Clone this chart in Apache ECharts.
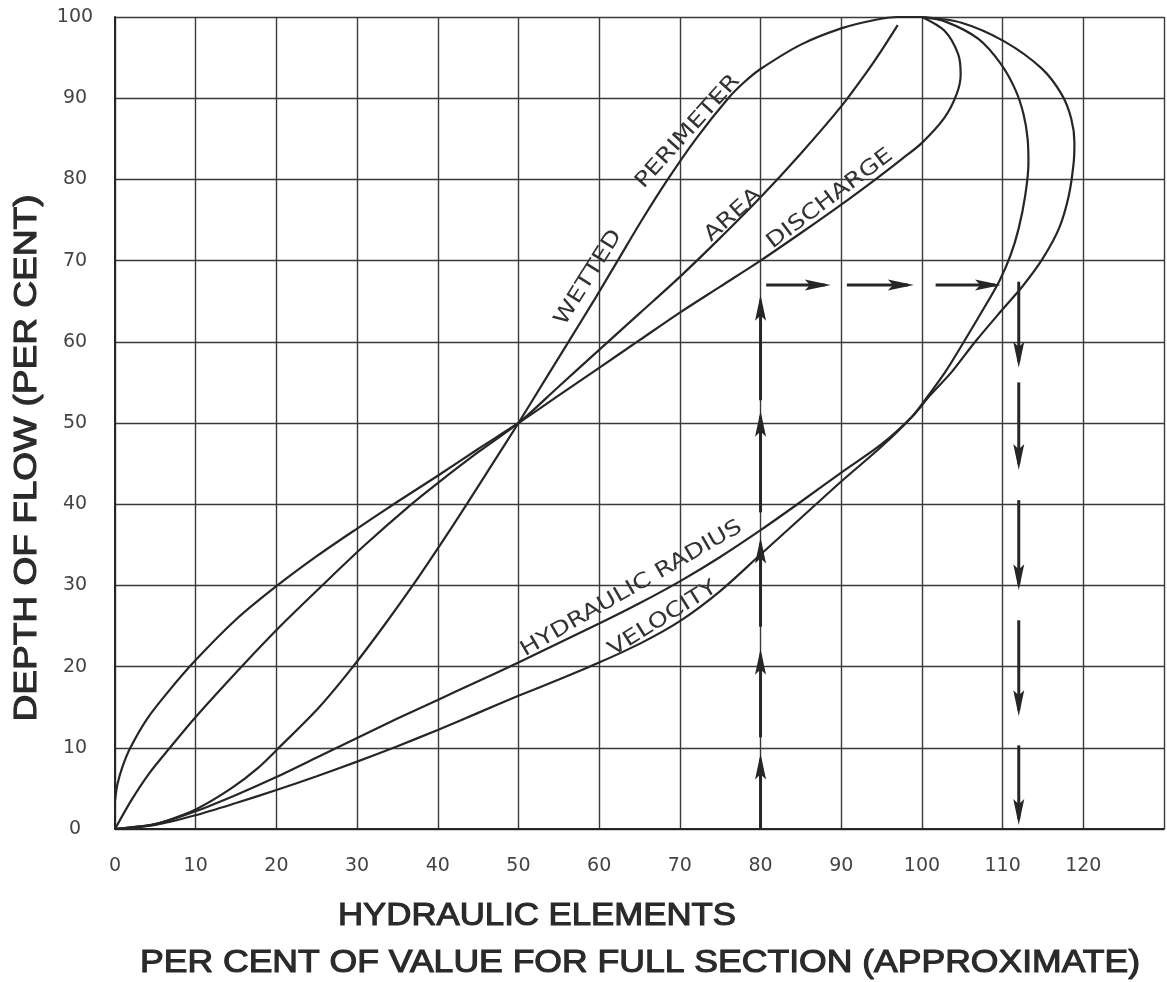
<!DOCTYPE html>
<html><head><meta charset="utf-8">
<script src="https://cdn.jsdelivr.net/npm/echarts@6/dist/echarts.min.js"></script>
<style>html,body{margin:0;padding:0;background:#fff}#c{width:1167px;height:982px}</style>
</head><body><div id="c"></div>
<script>
// ---- data (x = per cent of full-section value, y = depth of flow per cent) ----
const xTickLabels = ['0','10','20','30','40','50','60','70','80','90','100','110','120',''];
const yTickLabels = ['0','10','20','30','40','50','60','70','80','90','100'];

const wettedPerimeter = [[0,0],[4.5,0.5],[6.4,1],[10,2.4],[14.4,5],[17.7,7.5],[20.3,10],[25.3,15],[29.5,20],[33.3,25],[36.9,30],[40.3,35],[43.6,40],[46.8,45],[50,50],[53.1,55],[56.2,60],[59.3,65],[62.3,70],[65.3,75],[68.5,80],[72,85],[76,90],[78,92],[80,93.6],[85,96.6],[90,98.6],[94,99.6],[97,100],[100,100]];
const area = [[0,0],[2,3.5],[4.2,6.8],[6.8,10],[10,13.8],[15.5,19.8],[20.5,25],[26,30.3],[31,35],[36.5,39.8],[40,42.6],[45,46.4],[50,50],[55,54.5],[60,59],[65,63.5],[70,68],[75,72.8],[80,77.8],[85,83.2],[90,89],[93,93],[95,95.9],[97,99]];
const discharge = [[0,3.5],[0.3,5.5],[0.9,7.6],[1.9,10],[4,13.6],[6.5,16.8],[10,20.8],[15,25.8],[20,29.9],[25,33.6],[30,37],[35,40.3],[40,43.5],[45,46.8],[50,50],[55,53.4],[60,56.8],[65,60.2],[70,63.6],[75,66.8],[80,70],[85,73.4],[90,76.9],[94.5,80.2],[97.5,82.5],[100,84.5],[102.8,87.6],[104.3,90.5],[104.8,92.9],[104.5,95.4],[102.8,98.3],[100,100]];
const hydraulicRadius = [[0,0],[5,0.6],[10,2.2],[15,4.2],[20,6.4],[25,8.8],[30,11.2],[35,13.6],[40,15.9],[45,18.2],[50,20.5],[55,22.9],[60,25.3],[65,27.8],[70,30.5],[75,33.5],[80,36.8],[85,40.3],[90,43.9],[95,47.4],[98.8,50.8],[101,53.4],[103.7,56.3],[106.6,60],[110,64],[112.6,67],[115,70.3],[117,74],[118.2,78],[118.8,82],[118.9,84.5],[118.5,87.5],[117.3,90.5],[114.8,93.7],[110.2,97],[104.9,99.3],[100,100]];
const velocity = [[0,0],[5,0.5],[10,1.7],[15,3.2],[20,4.8],[25,6.5],[30,8.3],[35,10.2],[40,12.2],[45,14.3],[50,16.4],[55,18.4],[60,20.5],[65,22.8],[70,25.6],[75,29.3],[80,33.8],[85,38.3],[90,42.8],[95,47.1],[98.8,50.8],[100.8,53.4],[102.9,56.3],[105.2,60],[107.6,64],[109.6,67.5],[111,70.7],[112,74],[112.8,78],[113.2,82],[113.1,85],[112.6,88],[111.6,91],[109.8,94.2],[107,97.3],[103,99.4],[100,100]];

// construction arrows: [x1, y1, x2, y2], arrow head at (x2, y2)
const arrowsUp = [[80,0,80,9.3],[80,11.3,80,22.2],[80,24.9,80,35.9],[80,39,80,51.5],[80,52.8,80,65.8]];
const arrowsRight = [[80.7,67,88.7,67],[90.7,67,99,67],[101.7,67,109.8,67]];
const arrowsDown = [[112,67.4,112,56.8],[112,55,112,44.2],[112,40.5,112,29.4],[112,25.7,112,13.9],[112,10.3,112,0.5]];

// curve labels: text, anchor x, anchor y, angle (deg)
const curveLabelText = ['WETTED','PERIMETER','AREA','DISCHARGE','HYDRAULIC RADIUS','VELOCITY'];
const curveLabelX = [58.7, 71.0, 76.6, 88.6, 64.0, 67.9];
const curveLabelY = [67.9, 85.9, 75.6, 77.6, 29.6, 25.9];
const curveLabelAngle = [58, 48, 42, 37, 30, 32];

const yTitle = 'DEPTH OF FLOW (PER CENT)';
const xTitle1 = 'HYDRAULIC ELEMENTS';
const xTitle2 = 'PER CENT OF VALUE FOR FULL SECTION (APPROXIMATE)';

// ---- chart ----
const INK = '#262626';
const GRIDC = '#3a3a3a';
const numFont = '"DejaVu Sans", sans-serif';
const titleFont = '31px "Liberation Sans", Arial, sans-serif';
const labelFont = '21px "DejaVu Sans", sans-serif';

const mc = document.createElement('canvas').getContext('2d');
function fitScale(text, font, width) { mc.font = font; return width / mc.measureText(text).width; }

const chart = echarts.init(document.getElementById('c'), null, {renderer: 'canvas'});

function curve(name, data) {
  return { name, type: 'line', data, showSymbol: false, smooth: 0.3, clip: false,
    lineStyle: { color: INK, width: 2.2 }, silent: true, z: 3 };
}
function arrowSeries(data) {
  return {
    type: 'custom', data, silent: true, z: 4, clip: false,
    encode: { x: [0, 2], y: [1, 3] },
    renderItem: function (params, api) {
      const p1 = api.coord([api.value(0), api.value(1)]);
      const p2 = api.coord([api.value(2), api.value(3)]);
      const dx = p2[0] - p1[0], dy = p2[1] - p1[1];
      const len = Math.sqrt(dx * dx + dy * dy) || 1;
      const ux = dx / len, uy = dy / len;
      const hl = 26, hw = 5.5;
      const bx = p2[0] - ux * hl, by = p2[1] - uy * hl;
      return { type: 'group', children: [
        { type: 'line', shape: { x1: p1[0], y1: p1[1], x2: p2[0] - ux * 6, y2: p2[1] - uy * 6 },
          style: { stroke: INK, lineWidth: 3 } },
        { type: 'polygon', shape: { points: [[p2[0], p2[1]], [bx - uy * hw, by + ux * hw], [p2[0] - ux * hl * 0.8, p2[1] - uy * hl * 0.8], [bx + uy * hw, by - ux * hw]] },
          style: { fill: INK } }
      ]};
    }
  };
}

const labelData = curveLabelText.map((t, i) => [curveLabelX[i], curveLabelY[i], curveLabelAngle[i], i]);

function titleText(text, x, y, width, rot) {
  return { type: 'text', x, y, rotation: rot || 0,
    scaleX: fitScale(text, titleFont, width),
    style: { text, font: titleFont, fill: '#2a2a2a', stroke: '#2a2a2a', lineWidth: 1.1,
      align: 'center', verticalAlign: 'middle' } };
}

const option = {
  animation: false,
  backgroundColor: '#fff',
  grid: { left: 115, right: 1, top: 17, bottom: 153, containLabel: false },
  xAxis: {
    type: 'value', min: 0, max: 130, interval: 10,
    axisLine: { show: true, lineStyle: { color: INK, width: 2 } },
    axisTick: { show: false },
    splitLine: { show: true, lineStyle: { color: GRIDC, width: 1.4 } },
    axisLabel: { margin: 28, fontSize: 19, color: '#444', fontFamily: numFont,
      formatter: v => xTickLabels[Math.round(v / 10)] }
  },
  yAxis: {
    type: 'value', min: 0, max: 100, interval: 10,
    axisLine: { show: true, lineStyle: { color: INK, width: 2 } },
    axisTick: { show: false },
    splitLine: { show: true, lineStyle: { color: GRIDC, width: 1.4 } },
    axisLabel: { margin: 40, align: 'center', fontSize: 19, color: '#444', fontFamily: numFont,
      formatter: v => yTickLabels[Math.round(v / 10)] }
  },
  series: [
    curve('Wetted perimeter', wettedPerimeter),
    curve('Area', area),
    curve('Discharge', discharge),
    curve('Hydraulic radius', hydraulicRadius),
    curve('Velocity', velocity),
    arrowSeries(arrowsUp),
    arrowSeries(arrowsRight),
    arrowSeries(arrowsDown),
    {
      type: 'custom', data: labelData, silent: true, z: 5, clip: false,
      renderItem: function (params, api) {
        const p = api.coord([api.value(0), api.value(1)]);
        const i = api.value(3);
        return { type: 'text', x: p[0], y: p[1], rotation: api.value(2) * Math.PI / 180,
          scaleX: 1.22,
          style: { text: curveLabelText[i], font: labelFont, fill: '#333', align: 'center', verticalAlign: 'middle' } };
      }
    }
  ],
  graphic: [
    titleText(yTitle, 27, 458, 527, Math.PI / 2),
    titleText(xTitle1, 537, 916, 398),
    titleText(xTitle2, 640, 963, 1000)
  ]
};
chart.setOption(option);
</script>
</body></html>
